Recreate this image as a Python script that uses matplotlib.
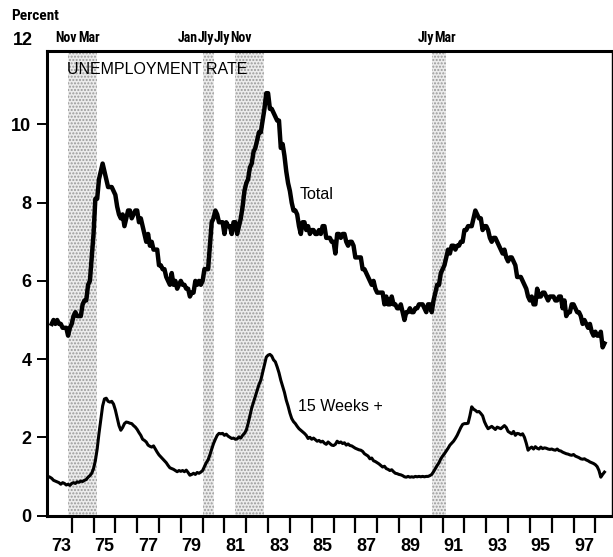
import numpy as np
import matplotlib
matplotlib.use("Agg")
import matplotlib.pyplot as plt

# monthly civilian unemployment rate, Jan 1973 - May 1998
total = [
    4.9, 5.0, 4.9, 5.0, 4.9, 4.9, 4.8, 4.8, 4.8, 4.6, 4.8, 4.9,   # 1973
    5.1, 5.2, 5.1, 5.1, 5.1, 5.4, 5.5, 5.5, 5.9, 6.0, 6.6, 7.2,   # 1974
    8.1, 8.1, 8.6, 8.8, 9.0, 8.8, 8.6, 8.4, 8.4, 8.4, 8.3, 8.2,   # 1975
    7.9, 7.7, 7.6, 7.7, 7.4, 7.6, 7.8, 7.8, 7.6, 7.7, 7.8, 7.8,   # 1976
    7.5, 7.6, 7.4, 7.2, 7.0, 7.2, 6.9, 7.0, 6.8, 6.8, 6.8, 6.4,   # 1977
    6.4, 6.3, 6.3, 6.1, 6.0, 5.9, 6.2, 5.9, 6.0, 5.8, 5.9, 6.0,   # 1978
    5.9, 5.9, 5.8, 5.8, 5.6, 5.7, 5.7, 6.0, 5.9, 6.0, 5.9, 6.0,   # 1979
    6.3, 6.3, 6.3, 6.9, 7.5, 7.6, 7.8, 7.7, 7.5, 7.5, 7.5, 7.2,   # 1980
    7.5, 7.4, 7.4, 7.2, 7.5, 7.5, 7.2, 7.4, 7.6, 7.9, 8.3, 8.5,   # 1981
    8.6, 8.9, 9.0, 9.3, 9.4, 9.6, 9.8, 9.8, 10.1, 10.4, 10.8, 10.8,  # 1982
    10.4, 10.4, 10.3, 10.2, 10.1, 10.1, 9.4, 9.5, 9.2, 8.8, 8.5, 8.3,  # 1983
    8.0, 7.8, 7.8, 7.7, 7.4, 7.2, 7.5, 7.5, 7.3, 7.4, 7.2, 7.3,   # 1984
    7.3, 7.2, 7.2, 7.3, 7.2, 7.4, 7.4, 7.1, 7.1, 7.1, 7.0, 7.0,   # 1985
    6.7, 7.2, 7.2, 7.1, 7.2, 7.2, 7.0, 6.9, 7.0, 7.0, 6.9, 6.6,   # 1986
    6.6, 6.6, 6.6, 6.3, 6.3, 6.2, 6.1, 6.0, 5.9, 6.0, 5.8, 5.7,   # 1987
    5.7, 5.7, 5.7, 5.4, 5.6, 5.4, 5.4, 5.6, 5.4, 5.4, 5.3, 5.3,   # 1988
    5.4, 5.2, 5.0, 5.2, 5.2, 5.3, 5.2, 5.2, 5.3, 5.3, 5.4, 5.4,   # 1989
    5.4, 5.3, 5.2, 5.4, 5.4, 5.2, 5.5, 5.7, 5.9, 5.9, 6.2, 6.3,   # 1990
    6.4, 6.6, 6.8, 6.7, 6.9, 6.9, 6.8, 6.9, 6.9, 7.0, 7.0, 7.3,   # 1991
    7.3, 7.4, 7.4, 7.4, 7.6, 7.8, 7.7, 7.6, 7.6, 7.3, 7.4, 7.4,   # 1992
    7.3, 7.1, 7.0, 7.1, 7.1, 7.0, 6.9, 6.8, 6.7, 6.8, 6.6, 6.5,   # 1993
    6.6, 6.6, 6.5, 6.4, 6.1, 6.1, 6.1, 6.0, 5.9, 5.8, 5.6, 5.5,   # 1994
    5.6, 5.4, 5.4, 5.8, 5.6, 5.6, 5.7, 5.7, 5.6, 5.5, 5.6, 5.6,   # 1995
    5.6, 5.5, 5.5, 5.6, 5.6, 5.3, 5.5, 5.1, 5.2, 5.2, 5.4, 5.4,   # 1996
    5.3, 5.2, 5.2, 5.1, 4.9, 5.0, 4.9, 4.8, 4.9, 4.7, 4.6, 4.7,   # 1997
    4.6, 4.6, 4.7, 4.3, 4.4,                                      # 1998
]

# unemployed 15 weeks or more, Oct 1972 - May 1998
weeks15 = [
    1.05, 1.00, 0.98,                                                       # 1972
    0.95, 0.90, 0.88, 0.86, 0.84, 0.80, 0.84, 0.82, 0.78, 0.80, 0.77, 0.82,  # 1973
    0.84, 0.82, 0.86, 0.85, 0.88, 0.87, 0.90, 0.92, 0.98, 1.02, 1.08, 1.20,  # 1974
    1.40, 1.70, 2.10, 2.45, 2.80, 2.98, 3.00, 2.92, 2.90, 2.92, 2.85, 2.70,  # 1975
    2.50, 2.30, 2.18, 2.25, 2.35, 2.39, 2.38, 2.36, 2.35, 2.30, 2.26, 2.20,  # 1976
    2.12, 2.05, 1.95, 1.92, 1.88, 1.80, 1.77, 1.75, 1.78, 1.70, 1.62, 1.55,  # 1977
    1.50, 1.45, 1.40, 1.35, 1.28, 1.22, 1.20, 1.18, 1.15, 1.12, 1.15, 1.13,  # 1978
    1.15, 1.12, 1.16, 1.10, 1.03, 1.05, 1.08, 1.05, 1.10, 1.08, 1.11, 1.15,  # 1979
    1.25, 1.35, 1.42, 1.55, 1.70, 1.84, 1.95, 2.05, 2.10, 2.09, 2.10, 2.05,  # 1980
    2.08, 2.03, 2.00, 1.97, 1.98, 1.95, 1.96, 2.01, 1.98, 2.05, 2.10, 2.18,  # 1981
    2.35, 2.55, 2.75, 2.90, 3.05, 3.20, 3.35, 3.46, 3.65, 3.85, 4.05, 4.10,  # 1982
    4.12, 4.08, 3.98, 3.93, 3.80, 3.65, 3.46, 3.30, 3.15, 2.95, 2.80, 2.62,  # 1983
    2.48, 2.40, 2.35, 2.28, 2.22, 2.18, 2.14, 2.10, 2.05, 1.97, 2.00, 1.95,  # 1984
    1.98, 1.94, 1.90, 1.92, 1.88, 1.90, 1.85, 1.82, 1.88, 1.84, 1.80, 1.79,  # 1985
    1.82, 1.90, 1.86, 1.88, 1.84, 1.86, 1.80, 1.83, 1.79, 1.78, 1.75, 1.72,  # 1986
    1.70, 1.68, 1.67, 1.64, 1.58, 1.55, 1.52, 1.45, 1.47, 1.40, 1.38, 1.35,  # 1987
    1.32, 1.28, 1.24, 1.26, 1.20, 1.18, 1.15, 1.17, 1.12, 1.08, 1.07, 1.05,  # 1988
    1.04, 1.02, 0.99, 0.98, 1.00, 0.98, 0.99, 0.98, 1.00, 0.99, 1.00, 0.99,  # 1989
    1.00, 0.99, 1.00, 1.00, 1.02, 1.05, 1.12, 1.20, 1.28, 1.35, 1.45, 1.52,  # 1990
    1.58, 1.65, 1.72, 1.80, 1.85, 1.90, 1.97, 2.05, 2.15, 2.25, 2.33, 2.35,  # 1991
    2.35, 2.36, 2.55, 2.78, 2.72, 2.69, 2.65, 2.66, 2.61, 2.55, 2.40, 2.30,  # 1992
    2.22, 2.25, 2.28, 2.24, 2.20, 2.26, 2.24, 2.22, 2.26, 2.30, 2.25, 2.15,  # 1993
    2.12, 2.09, 2.15, 2.05, 2.10, 2.09, 2.06, 2.09, 2.00, 1.85, 1.67, 1.72,  # 1994
    1.75, 1.70, 1.76, 1.72, 1.70, 1.75, 1.71, 1.73, 1.72, 1.70, 1.69, 1.70,  # 1995
    1.68, 1.67, 1.70, 1.66, 1.65, 1.62, 1.60, 1.58, 1.57, 1.55, 1.54, 1.56,  # 1996
    1.52, 1.50, 1.48, 1.45, 1.44, 1.45, 1.42, 1.40, 1.37, 1.35, 1.33, 1.30,  # 1997
    1.25, 1.15, 0.98, 1.05, 1.11,                                           # 1998
]

# recessions (peak, trough) as year + month fraction
recessions = [(1973 + 10/12, 1975 + 2/12), (1980 + 0/12, 1980 + 6/12),
              (1981 + 6/12, 1982 + 10/12), (1990 + 6/12, 1991 + 2/12)]
recession_labels = ["Nov", "Mar", "Jan", "Jly", "Jly", "Nov", "Jly", "Mar"]

year_labels = ["73", "75", "77", "79", "81", "83", "85", "87", "89", "91", "93", "95", "97"]

# monthly points plotted at end of month
t_total = 1973 + (np.arange(len(total)) + 1) / 12
t_15 = 1972 + 9/12 + (np.arange(len(weeks15)) + 1) / 12

plt.rcParams['font.family'] = ['Liberation Sans', 'DejaVu Sans']
narrow = ['Roboto Condensed', 'Open Sans Condensed', 'Liberation Sans Narrow',
          'DejaVu Sans Condensed', 'DejaVu Sans']

fig = plt.figure(figsize=(6.13, 5.57), dpi=100)
ax = fig.add_axes([0.0762, 0.0745, 0.9217, 0.834])

for start, end in recessions:
    ax.axvspan(start, end, facecolor='#ececec', edgecolor='#999999',
               hatch='.....', linewidth=0, zorder=0)

ax.plot(t_total, total, color='black', lw=3.2, solid_joinstyle='round', zorder=3)
ax.plot(t_15, weeks15, color='black', lw=2.2, solid_joinstyle='round', zorder=3)

ax.set_xlim(1972.854, 1998.75)
ax.set_ylim(0, 11.88)

# year ticks at January, labels centred on the odd years
ax.set_xticks(np.arange(1974, 1999))
ax.set_xticklabels([])
ax.set_xticks([int("19" + y) + 0.5 for y in year_labels], minor=True)
ax.set_xticklabels(year_labels, minor=True, fontsize=13, fontweight='bold')
ax.tick_params(axis='x', which='major', direction='out', length=12, width=1.6)
ax.tick_params(axis='x', which='minor', length=0, pad=16)

ax.set_yticks([0, 2, 4, 6, 8, 10])
ax.set_yticklabels(["0", "2", "4", "6", "8", "10"], fontsize=13, fontweight='bold')
ax.tick_params(axis='y', direction='out', length=7, width=1.4, pad=4)

for side in ['left', 'bottom', 'top']:
    ax.spines[side].set_linewidth(2.2)
ax.spines['right'].set_linewidth(1.0)

# recession month labels above the frame (left edges, crowded like the original)
label_x = [1973.24, 1974.29, 1978.87, 1979.79, 1980.52, 1981.25, 1989.87, 1990.60]
for lab, x in zip(recession_labels, label_x):
    ax.text(x, 1.012, lab, transform=ax.get_xaxis_transform(), ha='left',
            va='bottom', fontsize=10, fontweight='bold', family=narrow,
            fontstretch='condensed')

ax.text(1973.8, 11.4, "UNEMPLOYMENT RATE", fontsize=11.5, va='center', ha='left')
ax.text(1984.45, 8.2, "Total", fontsize=11.5, va='center', ha='left')
ax.text(1984.35, 2.78, "15 Weeks +", fontsize=11.5, va='center', ha='left')

fig.text(0.018, 0.972, "Percent", fontsize=11, fontweight='bold', va='center',
         ha='left', family=narrow, fontstretch='condensed')
fig.text(0.053, 0.927, "12", fontsize=13, fontweight='bold', va='center', ha='right')

fig.savefig("out.png", dpi=100)
